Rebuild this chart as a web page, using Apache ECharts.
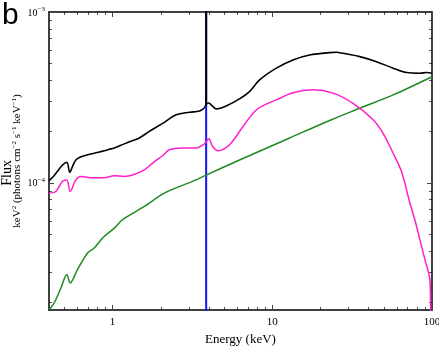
<!DOCTYPE html>
<html>
<head>
<meta charset="utf-8">
<script src="https://cdn.jsdelivr.net/npm/echarts@6/dist/echarts.min.js"></script>
<style>
  html, body { margin: 0; padding: 0; background: #fff; }
  #main { width: 439px; height: 347px; }
</style>
</head>
<body>
<div id="main"></div>
<script>
// 能量范围 / 通量范围
var xMin = 0.4, xMax = 100;
var yMin = 1.8e-5, yMax = 1e-3;

// 次刻度
var xMinor = [0.5, 0.6, 0.7, 0.8, 0.9, 2, 3, 4, 5, 6, 7, 8, 9, 20, 30, 40, 50, 60, 70, 80, 90];
var yMinor = [2e-5, 3e-5, 4e-5, 5e-5, 6e-5, 7e-5, 8e-5, 9e-5,
              2e-4, 3e-4, 4e-4, 5e-4, 6e-4, 7e-4, 8e-4, 9e-4];

// 总谱 (black), 连续部分
var total = [
    [0.401, 1.03e-4], [0.43, 1.10e-4], [0.486, 1.27e-4], [0.517, 1.32e-4], [0.540, 1.15e-4],
    [0.56, 1.24e-4], [0.589, 1.36e-4], [0.634, 1.42e-4], [0.665, 1.44e-4], [0.768, 1.49e-4],
    [0.887, 1.54e-4], [0.953, 1.57e-4], [1.025, 1.60e-4], [1.184, 1.69e-4], [1.368, 1.78e-4],
    [1.471, 1.83e-4], [1.699, 2.00e-4], [2.06, 2.23e-4], [2.5, 2.50e-4], [3.03, 2.59e-4],
    [3.5, 2.63e-4], [3.76, 2.75e-4], [3.855, 2.88e-4],
    [4.0, 2.93e-4], [4.24, 2.80e-4], [4.455, 2.71e-4], [5.145, 2.82e-4], [6.235, 3.10e-4],
    [7.2, 3.42e-4], [8.33, 4.00e-4], [10.6, 4.69e-4], [13.47, 5.24e-4], [17.14, 5.60e-4],
    [22.88, 5.78e-4], [25.2, 5.81e-4], [27.73, 5.73e-4], [35.3, 5.48e-4], [44.93, 5.12e-4],
    [57.1, 4.69e-4], [69.3, 4.42e-4], [84, 4.38e-4], [92.5, 4.42e-4], [100, 4.38e-4]
];
// 总谱在铁线处的尖峰
var totalSpike = [[3.855, 2.88e-4], [3.855, 3e-3]];

// 反射成分 (magenta)
var reflect = [
    [0.401, 8.71e-5], [0.441, 8.89e-5], [0.486, 1.02e-4], [0.517, 1.04e-4], [0.543, 8.89e-5],
    [0.589, 1.04e-4], [0.634, 1.09e-4], [0.732, 1.07e-4], [0.887, 1.07e-4], [1.025, 1.10e-4],
    [1.184, 1.09e-4], [1.335, 1.11e-4], [1.581, 1.19e-4], [1.827, 1.33e-4], [2.06, 1.44e-4],
    [2.268, 1.56e-4], [2.75, 1.60e-4], [3.336, 1.60e-4], [3.76, 1.69e-4], [4.0, 1.81e-4],
    [4.24, 1.63e-4], [4.56, 1.54e-4], [5.4, 1.67e-4], [6.54, 2.13e-4], [7.94, 2.67e-4],
    [9.62, 2.95e-4], [10.6, 3.06e-4], [13.47, 3.37e-4], [17.98, 3.50e-4], [24.0, 3.35e-4],
    [32.0, 2.92e-4], [42.8, 2.34e-4], [49.4, 1.95e-4], [57.1, 1.49e-4], [64.5, 1.16e-4],
    [72.7, 7.61e-5], [78.1, 6.08e-5], [80.1, 5.55e-5], [90.3, 3.55e-5], [94.7, 3.03e-5],
    [97.0, 2.71e-5], [98.0, 1.98e-5], [98.3, 1.6e-5]
];

// 幂律成分 (green)
var powerlaw = [
    [0.401, 1.81e-5], [0.431, 1.98e-5], [0.475, 2.42e-5], [0.517, 2.90e-5], [0.543, 2.59e-5],
    [0.603, 3.10e-5], [0.697, 3.88e-5], [0.768, 4.15e-5], [0.866, 4.75e-5], [1.025, 5.43e-5],
    [1.155, 6.08e-5], [1.581, 7.27e-5], [2.11, 8.71e-5], [3.336, 1.04e-4], [3.855, 1.11e-4],
    [6.235, 1.36e-4], [12.84, 1.83e-4], [23.45, 2.34e-4], [35.3, 2.73e-4], [57.1, 3.27e-4],
    [100, 4.18e-4]
];

// 铁线 (blue)
var line = [[3.855, 1e-6], [3.855, 3e-3]];

var serif = 'Liberation Serif';

function isDecade(v) {
    var l = Math.log10(v);
    return Math.abs(l - Math.round(l)) < 1e-6;
}

var myChart = echarts.init(document.getElementById('main'));

var logX = {
    type: 'log', min: xMin, max: xMax,
    axisLine: { lineStyle: { color: '#000', width: 1.5 } },
    axisTick: { inside: true, length: 5, lineStyle: { color: '#444' } },
    splitLine: { show: false }
};
var logY = {
    type: 'log', min: yMin, max: yMax,
    axisLine: { lineStyle: { color: '#000', width: 1.5 } },
    axisTick: { inside: true, length: 5, lineStyle: { color: '#444' } },
    splitLine: { show: false }
};

option = {
    animation: false,
    grid: { left: 49, right: 7, top: 12, bottom: 37, show: false, containLabel: false, outerBoundsMode: 'none' },
    xAxis: [
        echarts.util.merge({
            position: 'bottom',
            name: 'Energy (keV)',
            nameLocation: 'middle',
            nameGap: 22,
            nameTextStyle: { fontFamily: serif, fontSize: 13, color: '#000' },
            axisLabel: {
                fontFamily: serif, fontSize: 11, color: '#000', margin: 7,
                showMinLabel: false,
                formatter: function (v) { return isDecade(v) ? String(Math.round(v)) : ''; }
            }
        }, logX, true),
        echarts.util.merge({ position: 'top', axisLabel: { show: false } }, echarts.util.clone(logX), true)
    ],
    yAxis: [
        echarts.util.merge({
            position: 'left',
            name: '{a|keV}{s|2}{a| (photons cm}{s|−2}{a| s}{s|−1}{a| keV}{s|−1}{a|)}',
            nameLocation: 'middle',
            nameGap: 26,
            nameRotate: 90,
            nameMoveOverlap: false,
            nameTextStyle: {
                rich: {
                    a: { fontFamily: serif, fontSize: 11, color: '#000', lineHeight: 12, verticalAlign: 'bottom' },
                    s: { fontFamily: serif, fontSize: 7, color: '#000', lineHeight: 12, verticalAlign: 'top' }
                }
            },
            axisLabel: {
                margin: 4,
                showMinLabel: false,
                formatter: function (v) {
                    if (!isDecade(v)) return '';
                    return '{b|10}{s|−' + Math.abs(Math.round(Math.log10(v))) + '}';
                },
                rich: {
                    b: { fontFamily: serif, fontSize: 10, color: '#000', lineHeight: 12, verticalAlign: 'bottom' },
                    s: { fontFamily: serif, fontSize: 7, color: '#000', lineHeight: 12, verticalAlign: 'top' }
                }
            }
        }, logY, true),
        echarts.util.merge({ position: 'right', axisLabel: { show: false } }, echarts.util.clone(logY), true)
    ],
    series: [
        { name: 'line', type: 'line', data: line, showSymbol: false, z: 2,
          lineStyle: { color: '#1414ff', width: 2 } },
        { name: 'powerlaw', type: 'line', data: powerlaw, showSymbol: false, smooth: 0.3, z: 3,
          lineStyle: { color: '#1f8a1f', width: 1.5 } },
        { name: 'reflect', type: 'line', data: reflect, showSymbol: false, smooth: 0.35, z: 4,
          lineStyle: { color: '#ff1ec8', width: 1.5 } },
        { name: 'total', type: 'line', data: total, showSymbol: false, smooth: 0.35, z: 5,
          lineStyle: { color: '#000', width: 1.6 } },
        { name: 'totalSpike', type: 'line', data: totalSpike, showSymbol: false, z: 5,
          lineStyle: { color: '#000', width: 2 } }
    ]
};

myChart.setOption(option);

// 次刻度线
var x0 = myChart.convertToPixel({ xAxisIndex: 0 }, xMin);
var x1 = myChart.convertToPixel({ xAxisIndex: 0 }, xMax);
var yb = myChart.convertToPixel({ yAxisIndex: 0 }, yMin);
var yt = myChart.convertToPixel({ yAxisIndex: 0 }, yMax);
var g = [];
var tickStyle = { stroke: '#555', lineWidth: 1 };
xMinor.forEach(function (v) {
    var p = Math.round(myChart.convertToPixel({ xAxisIndex: 0 }, v)) + 0.5;
    g.push({ type: 'line', shape: { x1: p, y1: yb, x2: p, y2: yb - 3 }, style: tickStyle });
    g.push({ type: 'line', shape: { x1: p, y1: yt, x2: p, y2: yt + 3 }, style: tickStyle });
});
yMinor.forEach(function (v) {
    var p = Math.round(myChart.convertToPixel({ yAxisIndex: 0 }, v)) + 0.5;
    g.push({ type: 'line', shape: { x1: x0, y1: p, x2: x0 + 3, y2: p }, style: tickStyle });
    g.push({ type: 'line', shape: { x1: x1, y1: p, x2: x1 - 3, y2: p }, style: tickStyle });
});
// "Flux" 标题
g.push({
    type: 'text', left: 0, top: 160, rotation: Math.PI / 2,
    style: { text: 'Flux', font: '14px ' + serif, fill: '#000' }
});
g.push({
    type: 'text', left: 2, top: 1,
    style: { text: 'b', font: '30px Liberation Sans', fill: '#000' }
});
myChart.setOption({ graphic: g });
</script>
</body>
</html>
